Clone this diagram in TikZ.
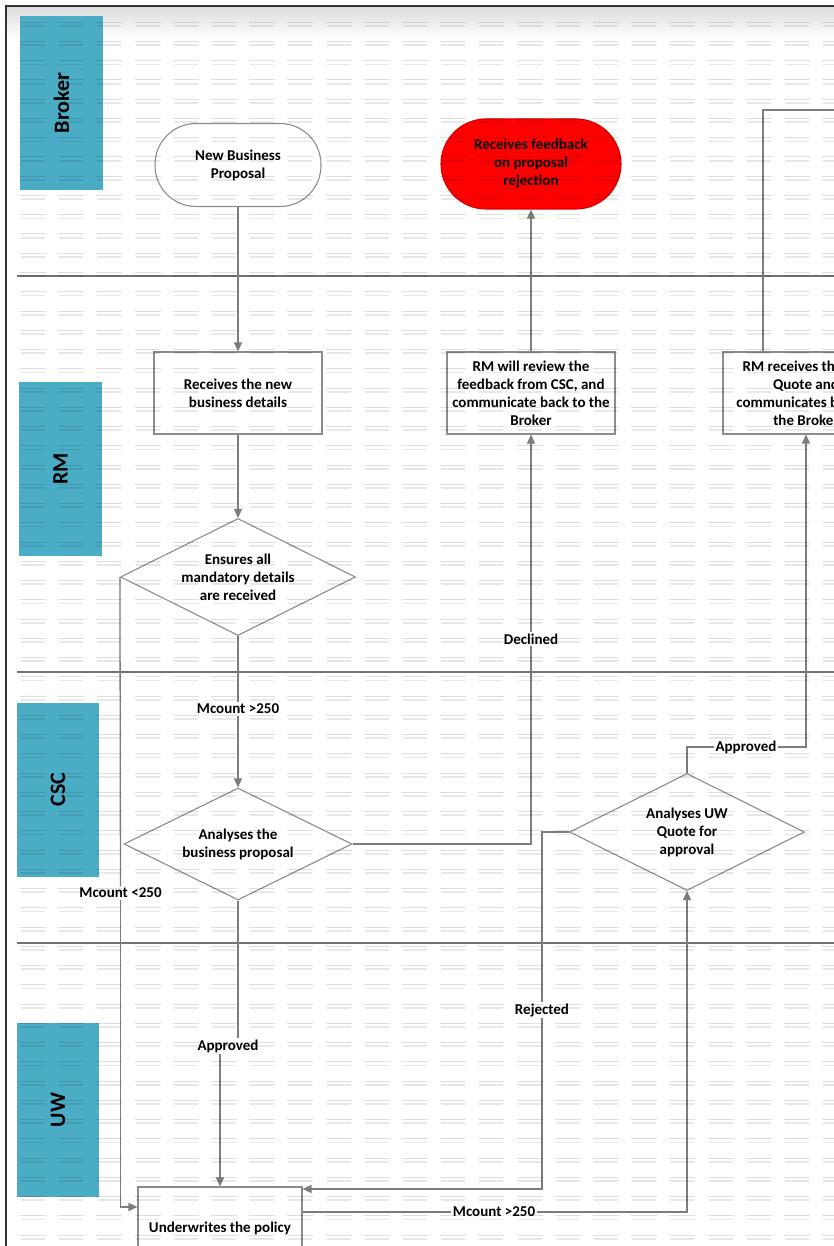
\documentclass[tikz,border=0pt]{standalone}
\usepackage{fontspec}
\setmainfont{Carlito}
\usetikzlibrary{shapes.geometric, arrows.meta, positioning, calc}
\definecolor{laneteal}{RGB}{75, 172, 198}
\definecolor{linegray}{RGB}{125, 125, 125}
\definecolor{boxgray}{RGB}{140, 140, 140}
\definecolor{rejectred}{RGB}{255, 0, 0}

\begin{document}
\begin{tikzpicture}[x=1pt, y=-1pt,
  base/.style={font=\fontsize{15}{18}\selectfont\bfseries, align=center, text=black},
  lane/.style={fill=laneteal, rotate=90, minimum width=174pt, minimum height=83pt, inner sep=0pt, font=\fontsize{22}{26}\selectfont\bfseries},
  term/.style={base, draw=boxgray, line width=1.1pt, rounded corners=41pt, minimum width=166pt, minimum height=83pt},
  proc/.style={base, draw=boxgray, line width=1.1pt, minimum width=168pt, minimum height=82pt, inner sep=2pt},
  choice/.style={base, diamond, draw=boxgray, line width=1.1pt, aspect=2, inner sep=0pt, minimum width=235pt, minimum height=117pt},
  tag/.style={base, inner sep=1.5pt},
  link/.style={draw=linegray, line width=1.3pt},
  flow/.style={link, -{Triangle[length=9pt, width=8pt]}},
  wmline/.style={draw=black, draw opacity=0.13, line width=0.5pt},
  wmbar/.style={draw=black, draw opacity=0.09, line width=1.8pt}
]
  \useasboundingbox (0,0) rectangle (834,1246);
  \fill[top color=black!14, bottom color=white] (6,6) rectangle (834,38);
  \draw[black!80, line width=2pt] (6,1246) -- (6,6) -- (834,6);

  \draw[black!55, line width=1.4pt] (17,276) -- (834,276);
  \draw[black!55, line width=1.4pt] (17,672) -- (834,672);
  \draw[black!55, line width=1.4pt] (17,943) -- (834,943);

  \node[lane] (broker) at (61.5,103) {Broker};
  \node[lane] (rm) at (60.5,469) {RM};
  \node[lane, minimum height=82pt] (csc) at (58,789.5) {CSC};
  \node[lane, minimum height=82pt] (uw) at (58,1110) {UW};

  \node[term] (nbp) at (238,165) {New Business\\Proposal};
  \node[term, fill=rejectred, draw=rejectred!85!black, rounded corners=45pt, minimum width=180pt, minimum height=90pt] (fbk) at (531,164) {Receives feedback\\on proposal\\rejection};
  \node[proc] (rcv) at (238,393) {Receives the new\\business details};
  \node[choice] (ens) at (238,577) {Ensures all\\mandatory details\\are received};
  \node[proc] (rvw) at (531,393) {RM will review the\\feedback from CSC, and\\communicate back to the\\Broker};
  \node[proc, minimum width=166pt] (rqt) at (806,393) {RM receives the UW\\Quote and\\communicates back to\\the Broker};
  \node[choice, minimum width=228pt, minimum height=112pt] (bp) at (238,844) {Analyses the\\business proposal};
  \node[choice] (uwq) at (687,832) {Analyses UW\\Quote for\\approval};
  \node[proc, minimum width=164pt] (uwp) at (220,1228) {Underwrites the policy};
  \coordinate (brk) at (900,110);

  \node[tag] (m1) at (238,709) {Mcount >250};
  \node[tag] (m2) at (120.5,893) {Mcount <250};
  \node[tag] (dcl) at (531,639) {Declined};
  \node[tag] (ap1) at (228,1046) {Approved};
  \node[tag] (ap2) at (746,747) {Approved};
  \node[tag] (rej) at (542,1010) {Rejected};
  \node[tag] (m3) at (494,1212) {Mcount >250};

  \draw[flow] (nbp) -- (rcv);
  \draw[flow] (rcv) -- (ens);
  \draw[link] (ens) -- (m1);
  \draw[flow] (m1) -- (bp);
  \draw[link] (ens.west) -- (m2);
  \draw[flow] (m2) |- ([yshift=21pt]uwp.west);
  \draw[link] (bp.south) -- (bp.south |- ap1.north);
  \draw[flow] (ap1.south -| uwp.north) -- (uwp.north);
  \draw[link] (bp.east) -| (dcl);
  \draw[flow] (dcl) -- (rvw);
  \draw[flow] (rvw) -- (fbk);
  \draw[link] (uwq.north) |- (ap2);
  \draw[flow] (ap2) -| (rqt.south);
  \draw[link] ([xshift=-43pt]rqt.north) |- (brk);
  \draw[link] ([yshift=16pt]uwp.east) -- (m3);
  \draw[flow] (m3) -| (uwq.south);
  \draw[link] (uwq.west) -| (rej);
  \draw[flow] (rej) |- ([yshift=39pt]uwp.east);

  \foreach \i in {0,...,21} {
    \foreach \j in {0,...,64} {
      \draw[wmline] ({33+38.2*\i-13}, {22+19.25*\j}) -- ++(26,0);
      \draw[wmbar] ({33+38.2*\i-12}, {26+19.25*\j}) -- ++(24,0);
    }
  }
\end{tikzpicture}
\end{document}
